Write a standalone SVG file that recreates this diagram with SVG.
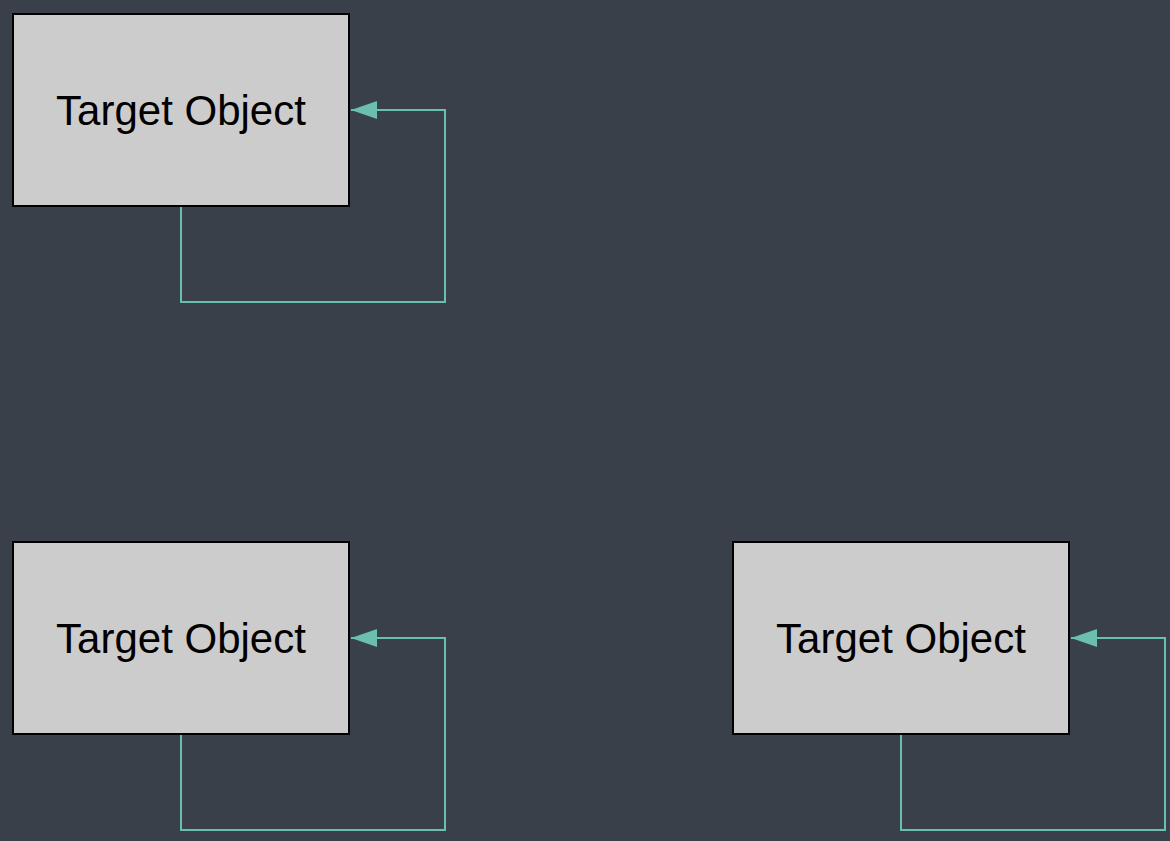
<svg xmlns="http://www.w3.org/2000/svg" width="1170" height="841" viewBox="0 0 1170 841">
<defs>
<style>
.node rect{fill:#cccccc;stroke:#000000;stroke-width:2}
.node text{font-family:"Liberation Sans",Arial,sans-serif;font-size:42px;fill:#000000;text-anchor:middle}
.edge{fill:none;stroke:#6bbfad;stroke-width:2;marker-end:url(#arr)}
</style>
<marker id="arr" viewBox="0 0 26 18" refX="26" refY="9" markerWidth="26" markerHeight="18" markerUnits="userSpaceOnUse" orient="auto">
<path d="M0,0 L26,9 L0,18 Z" fill="#6bbfad"/>
</marker>
</defs>
<rect x="0" y="0" width="1170" height="841" fill="#3a4049"/>
<g id="connectors">
<path class="edge" d="M181,206 V302 H445 V110 H351"/>
<path class="edge" d="M181,734 V830 H445 V638 H351"/>
<path class="edge" d="M901,734 V830 H1165 V638 H1071"/>
</g>
<g id="node1" class="node">
<rect x="13" y="14" width="336" height="192"/>
<text x="181" y="125">Target Object</text>
</g>
<g id="node2" class="node">
<rect x="13" y="542" width="336" height="192"/>
<text x="181" y="653">Target Object</text>
</g>
<g id="node3" class="node">
<rect x="733" y="542" width="336" height="192"/>
<text x="901" y="653">Target Object</text>
</g>
</svg>
